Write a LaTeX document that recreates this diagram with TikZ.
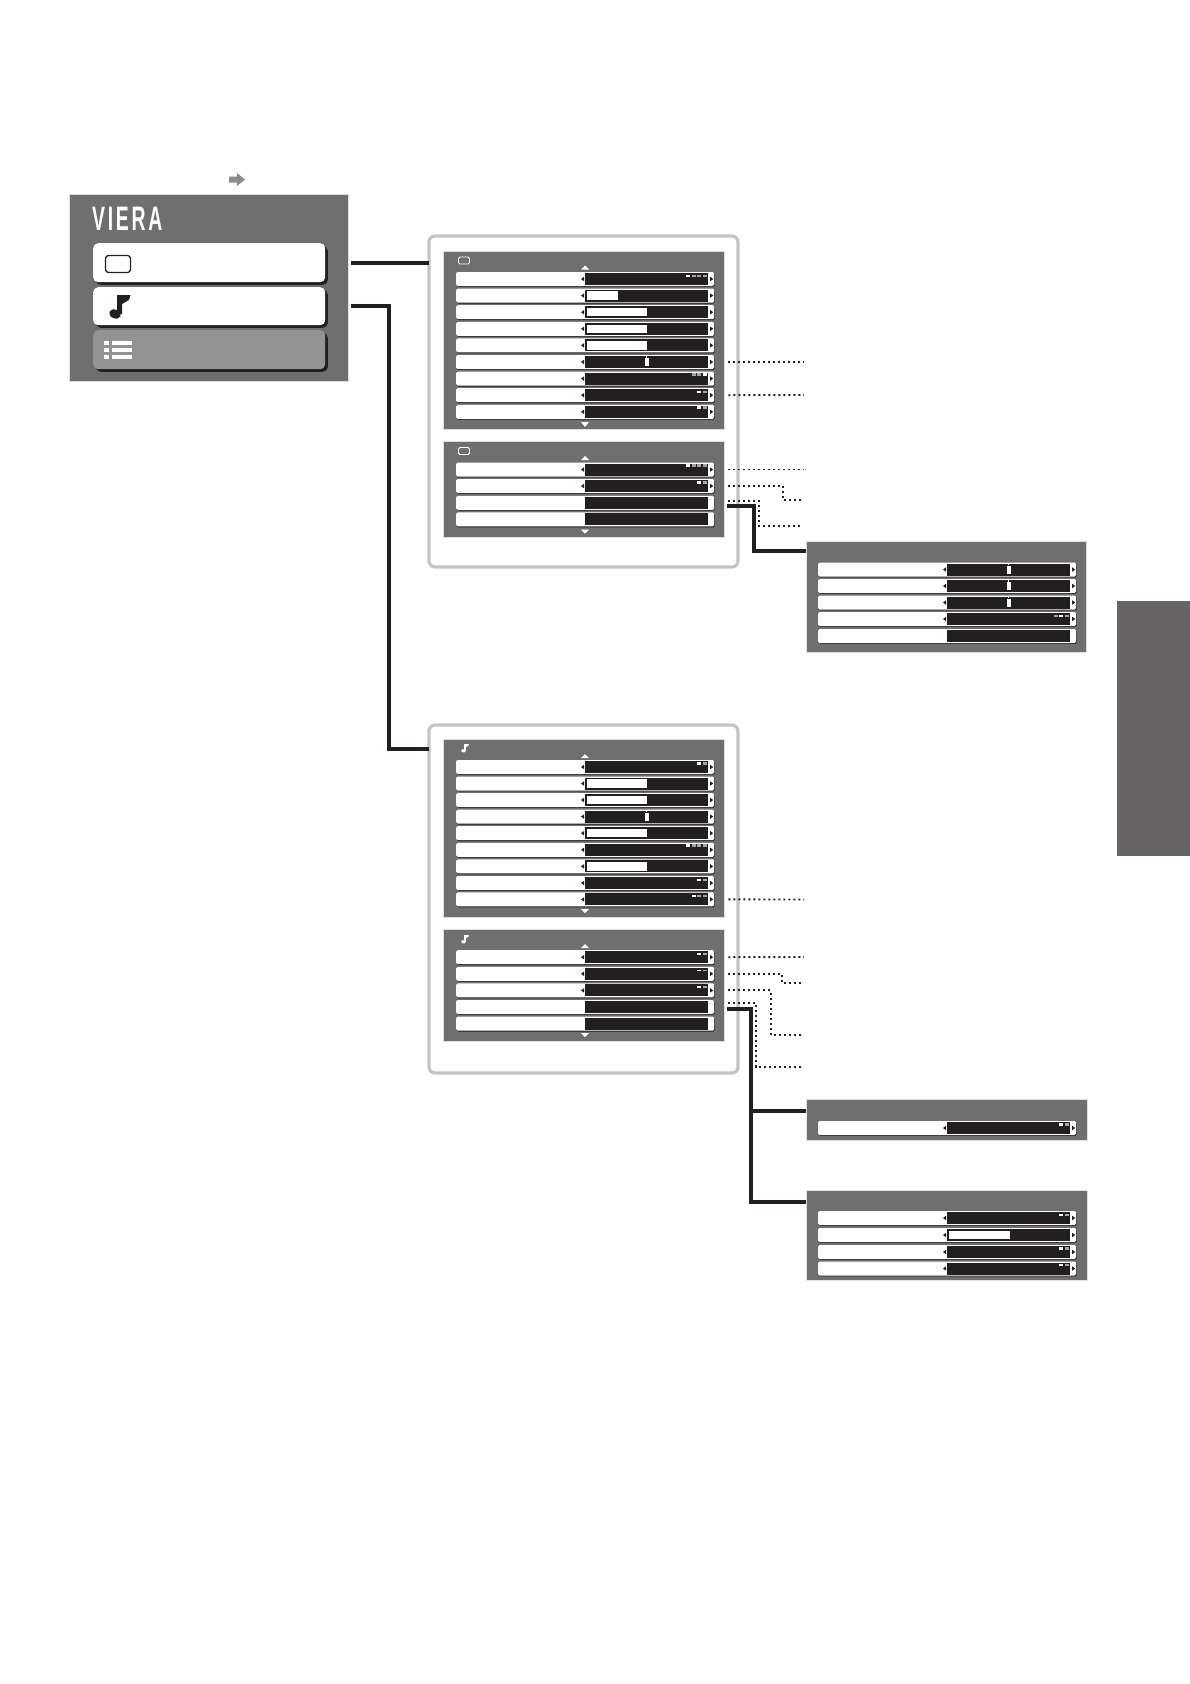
\documentclass[tikz,border=0pt]{standalone}
\usepackage{fontspec}
\setmainfont{Liberation Sans}
\usepackage{tikz}

\definecolor{panelgray}{HTML}{6F6F6F}
\definecolor{tabgray}{HTML}{666464}
\definecolor{barblack}{HTML}{231F20}
\definecolor{dashgray}{HTML}{A6A6A6}
\definecolor{framegray}{HTML}{C4C4C4}

\tikzset{
  panel/.style={fill=panelgray, draw=gray!25, line width=.6pt, anchor=north west, inner sep=0pt, outer sep=0pt},
  frame/.style={draw=framegray, line width=3.2pt, rounded corners=6pt, anchor=north west, inner sep=0pt, outer sep=0pt},
  button/.style={fill=white, rounded corners=5pt, anchor=north west, inner sep=0pt, minimum width=232pt,
    preaction={fill=barblack, transform canvas={xshift=2.6pt, yshift=-2.6pt}}},
  rowbox/.style={fill=white, rounded corners=1.5pt, anchor=west, inner sep=0pt, minimum width=258pt, minimum height=14pt,
    preaction={fill=barblack, transform canvas={xshift=.5pt, yshift=-.9pt}}},
  rowbar/.style={fill=barblack, anchor=west, inner sep=0pt, minimum width=123pt, minimum height=12pt},
  slider/.style={fill=white, anchor=west, inner sep=0pt, minimum height=8.5pt},
  thumb/.style={fill=white, inner sep=0pt, minimum width=4pt, minimum height=8pt},
  tab/.style={fill=tabgray, anchor=north west, inner sep=0pt},
  line/.style={draw=barblack, line width=3.6pt},
  dotline/.style={draw=barblack, line width=1.9pt, dash pattern=on 1.9pt off 3.1pt},
  noteicon/.pic={
    \fill[rotate around={-22:(5,19)}] (5,19) ellipse (6 and 4.4);
    \fill (7,19) -- (7,0) -- (20.5,0) -- (19,5) -- (12,9) -- (12,19) -- cycle;
  }
}

% one row of a menu: name, left, centre
\newcommand{\menurow}[3]{
  \node[rowbox] (#1) at (#2,#3) {};
  \node[rowbar] (#1bar) at ([xshift=129pt]#1.west) {};
}
\newcommand{\rowtips}[1]{
  \fill[barblack] ([xshift=-1pt]#1bar.west) ++(0,-2.2) -- ++(0,4.4) -- ++(-3,-2.2) -- cycle;
  \fill[barblack] ([xshift=1.8pt]#1bar.east) ++(0,-2.2) -- ++(0,4.4) -- ++(3,-2.2) -- cycle;
}
% name, left, centre, width of the white part
\newcommand{\sliderrow}[4]{
  \menurow{#1}{#2}{#3}\rowtips{#1}
  \node[slider, minimum width=#4pt] (#1fill) at ([xshift=2pt]#1bar.west) {};
}
\newcommand{\thumbrow}[3]{
  \menurow{#1}{#2}{#3}\rowtips{#1}
  \node[thumb] (#1thumb) at (#1bar.center) {};
  \fill[white] ([xshift=-.5pt]#1thumb.north) rectangle ++(1,-2);
}
% name, left, centre, dashes, which is white, height of a dash
\newcommand{\dashrow}[6]{
  \menurow{#1}{#2}{#3}\rowtips{#1}
  \foreach \j in {1,...,#4}{
    \ifnum\j=#5\relax\def\dashcol{white}\else\def\dashcol{dashgray}\fi
    \fill[\dashcol] ([xshift={-1.4pt-(#4-\j)*5.6pt},yshift=2.4pt]#1bar.east) rectangle ++(-4.3,-#6);
  }
}

\begin{document}
\begin{tikzpicture}[x=1pt, y=-1pt]
\useasboundingbox (0,0) rectangle (1190,1684);

% start screen
\fill[gray!90] (229,176.5) -- (237,176.5) -- (237,173) -- (245,179.5) -- (237,186) -- (237,182.5) -- (229,182.5) -- cycle;
\node[panel, minimum width=279pt, minimum height=187pt] (mainbox) at (69.5,194.5) {};
\node[white, font=\bfseries\fontsize{34}{34}\selectfont\addfontfeatures{LetterSpace=14}, anchor=west, inner sep=0pt] (logo) at (92,218.5) {\scalebox{.57}[1]{VIERA}};
\node[button, minimum height=39pt] (btnpicture) at (93,243) {};
\node[button, minimum height=38pt] (btnsound) at (93,287) {};
\node[button, minimum height=39pt, fill=gray!85!white] (btnsetup) at (93,330) {};
\node[draw=barblack, line width=1.3pt, rounded corners=3pt, minimum width=25pt, minimum height=17pt, inner sep=0pt] (tvicon) at (118,264) {};
\pic[barblack] (noteicon) at (110,295) {noteicon};
\foreach \r in {343,350,357}{
  \fill[white] (104,\r-1.8) rectangle (109,\r+1.8);
  \fill[white] (112,\r-1.8) rectangle (132,\r+1.8);
}

% picture menu
\node[frame, minimum width=309pt, minimum height=331pt] (framepicture) at (429,236) {};
\node[panel, minimum width=281pt, minimum height=178pt] (panelA) at (443,251) {};
\node[draw=white, line width=.8pt, rounded corners=1.5pt, minimum width=11pt, minimum height=7pt, inner sep=0pt] (iconA) at (464,260.5) {};
\dashrow{rowA1}{456}{279}{4}{1}{1.8}
\sliderrow{rowA2}{456}{295.6}{31}
\sliderrow{rowA3}{456}{312.2}{60}
\sliderrow{rowA4}{456}{328.8}{60}
\sliderrow{rowA5}{456}{345.4}{60}
\thumbrow{rowA6}{456}{362}
\dashrow{rowA7}{456}{378.6}{3}{3}{3}
\dashrow{rowA8}{456}{395.2}{2}{1}{1.8}
\dashrow{rowA9}{456}{411.8}{2}{1}{3}
\fill[white] (585,265.5) -- (589,269.5) -- (581,269.5) -- cycle;
\fill[white] (585,427) -- (589,422) -- (581,422) -- cycle;

\node[panel, minimum width=281pt, minimum height=96pt] (panelB) at (443,441) {};
\node[draw=white, line width=.8pt, rounded corners=1.5pt, minimum width=11pt, minimum height=7pt, inner sep=0pt] (iconB) at (464,451) {};
\dashrow{rowB1}{456}{469.5}{4}{1}{3}
\dashrow{rowB2}{456}{486}{2}{1}{3}
\menurow{rowB3}{456}{502.8}
\menurow{rowB4}{456}{519.4}
\fill[white] (585,456) -- (589,460) -- (581,460) -- cycle;
\fill[white] (585,533.5) -- (589,529.5) -- (581,529.5) -- cycle;

\node[panel, minimum width=280pt, minimum height=111pt] (panelC) at (806,541) {};
\thumbrow{rowC1}{818}{569.5}
\thumbrow{rowC2}{818}{586}
\thumbrow{rowC3}{818}{602.5}
\dashrow{rowC4}{818}{619}{3}{2}{2}
\menurow{rowC5}{818}{636}

% sound menu
\node[frame, minimum width=309pt, minimum height=348pt] (framesound) at (429,725) {};
\node[panel, minimum width=281pt, minimum height=178pt] (panelD) at (443,739) {};
\pic[white, scale=.36] (noteD) at (461.5,744) {noteicon};
\dashrow{rowD1}{456}{767}{2}{1}{3}
\sliderrow{rowD2}{456}{783.5}{60}
\sliderrow{rowD3}{456}{800}{60}
\thumbrow{rowD4}{456}{816.6}
\sliderrow{rowD5}{456}{833.2}{60}
\dashrow{rowD6}{456}{849.8}{4}{1}{3}
\sliderrow{rowD7}{456}{866.4}{60}
\dashrow{rowD8}{456}{883}{2}{1}{1.8}
\dashrow{rowD9}{456}{899.4}{3}{1}{1.8}
\fill[white] (585,754) -- (589,758) -- (581,758) -- cycle;
\fill[white] (585,913) -- (589,909) -- (581,909) -- cycle;

\node[panel, minimum width=281pt, minimum height=112pt] (panelE) at (443,929) {};
\pic[white, scale=.36] (noteE) at (461.5,935) {noteicon};
\dashrow{rowE1}{456}{957.2}{2}{1}{1.8}
\dashrow{rowE2}{456}{973.8}{2}{1}{1.8}
\dashrow{rowE3}{456}{990.4}{2}{1}{1.8}
\menurow{rowE4}{456}{1007}
\menurow{rowE5}{456}{1023.6}
\fill[white] (585,944) -- (589,948) -- (581,948) -- cycle;
\fill[white] (585,1037) -- (589,1033) -- (581,1033) -- cycle;

\node[panel, minimum width=281pt, minimum height=41pt] (panelF) at (806,1099) {};
\dashrow{rowF1}{818}{1128}{2}{1}{3}

\node[panel, minimum width=281pt, minimum height=90pt] (panelG) at (806,1190) {};
\dashrow{rowG1}{818}{1218}{2}{1}{1.8}
\sliderrow{rowG2}{818}{1235}{61}
\dashrow{rowG3}{818}{1252}{2}{1}{3}
\dashrow{rowG4}{818}{1268.5}{2}{1}{1.8}

% side tab
\node[tab, minimum width=73pt, minimum height=255pt] (sidetab) at (1117,601) {};

% free ends of the dotted lines
\coordinate (noteA6) at (804,362);
\coordinate (noteA8) at (804,395);
\coordinate (noteB1) at (804,469.5);
\coordinate (noteB2) at (802,500);
\coordinate (noteB3) at (802,526);
\coordinate (noteD9) at (804,899.5);
\coordinate (noteE1) at (804,957);
\coordinate (noteE2) at (802,983);
\coordinate (noteE3) at (802,1035);
\coordinate (noteE4) at (802,1067);

\draw[dotline] ([xshift=14pt]rowA6.east) -- (noteA6);
\draw[dotline] ([xshift=14pt]rowA8.east) -- (noteA8);
\draw[dotline] ([xshift=14pt]rowB1.east) -- (noteB1);
\draw[dotline] ([xshift=14pt]rowB2.east) -| (783,500) -- (noteB2);
\draw[dotline] ([xshift=14pt,yshift=2pt]rowB3.east) -| (759,526) -- (noteB3);
\draw[dotline] ([xshift=14pt]rowD9.east) -- (noteD9);
\draw[dotline] ([xshift=14pt]rowE1.east) -- (noteE1);
\draw[dotline] ([xshift=14pt]rowE2.east) -| (782,983) -- (noteE2);
\draw[dotline] ([xshift=14pt]rowE3.east) -| (771,1035) -- (noteE3);
\draw[dotline] ([xshift=14pt,yshift=4pt]rowE4.east) -| (756,1067) -- (noteE4);

\draw[line] ([xshift=2pt]mainbox.east |- btnpicture) -- (framepicture.west |- btnpicture);
\draw[line] ([xshift=2pt]mainbox.east |- btnsound) -| (389,749) -- (framesound.west |- 0,749);
\draw[line] ([xshift=13pt,yshift=-3pt]rowB3.east) -| (754,551) -- (panelC.west |- 0,551);
\draw[line] ([xshift=13pt,yshift=-2pt]rowE4.east) -| (751,1202) -- (panelG.west |- 0,1202);
\draw[line] (751,1111) -- (panelF.west |- 0,1111);
\end{tikzpicture}
\end{document}
